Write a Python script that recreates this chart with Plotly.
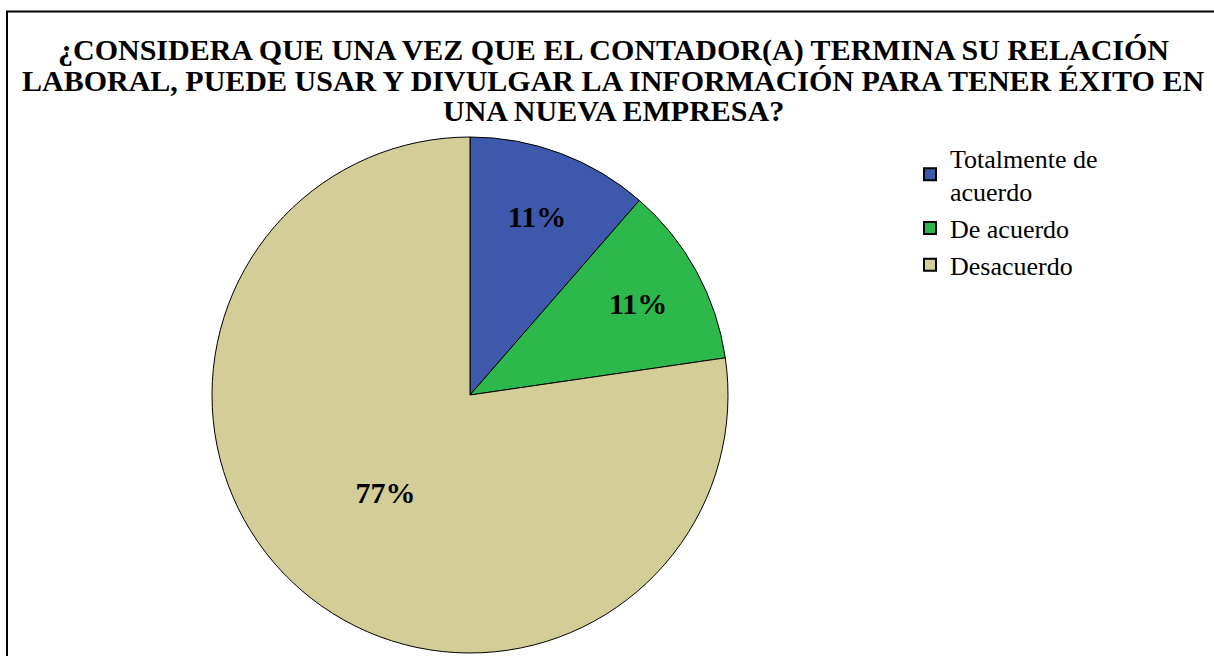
import plotly.graph_objects as go

categories = ["Totalmente de<br>acuerdo", "De acuerdo", "Desacuerdo"]
values = [11.4, 11.3, 77.3]
colors = ["#3e58ac", "#2db84b", "#d3ce97"]

title_lines = [
    "¿CONSIDERA QUE UNA VEZ QUE EL CONTADOR(A) TERMINA SU RELACIÓN",
    "LABORAL, PUEDE USAR Y DIVULGAR LA INFORMACIÓN PARA TENER ÉXITO EN",
    "UNA NUEVA EMPRESA?",
]

W, H = 1214, 656

fig = go.Figure(go.Pie(
    labels=categories,
    values=values,
    sort=False,
    direction="clockwise",
    rotation=0,
    marker=dict(colors=colors, line=dict(color="black", width=1)),
    texttemplate="%{percent:.0%}",
    textposition="inside",
    insidetextorientation="horizontal",
    textfont=dict(family="Liberation Serif", size=30, color="black", weight="bold"),
    domain=dict(x=[212 / W, 728 / W], y=[3 / H, 519 / H]),
    hoverinfo="label+percent",
))

annotations = []
for i, line in enumerate(title_lines):
    annotations.append(dict(
        text=line, xref="paper", yref="paper",
        x=0.505, xanchor="center",
        y=1 - (50 + 30 * i) / H, yanchor="middle",
        showarrow=False,
        font=dict(family="Liberation Serif", size=30, color="black", weight="bold"),
    ))

fig.update_layout(
    width=W, height=H,
    margin=dict(l=0, r=0, t=0, b=0),
    paper_bgcolor="white",
    plot_bgcolor="white",
    annotations=annotations,
    showlegend=True,
    legend=dict(
        x=910 / W, xanchor="left",
        y=1 - 134 / H, yanchor="top",
        font=dict(family="Liberation Serif", size=26, color="black"),
        itemsizing="constant",
        tracegroupgap=0,
        bgcolor="rgba(0,0,0,0)",
    ),
    shapes=[
        dict(type="rect", xref="paper", yref="paper",
             x0=7 / W, x1=1.2, y0=-0.2, y1=1 - 11.5 / H,
             line=dict(color="black", width=2), fillcolor="rgba(0,0,0,0)", layer="below"),
    ],
)

fig.write_html("out.html", config={"displayModeBar": False},
               post_script="document.body.style.margin='0';document.body.style.overflow='hidden';")
